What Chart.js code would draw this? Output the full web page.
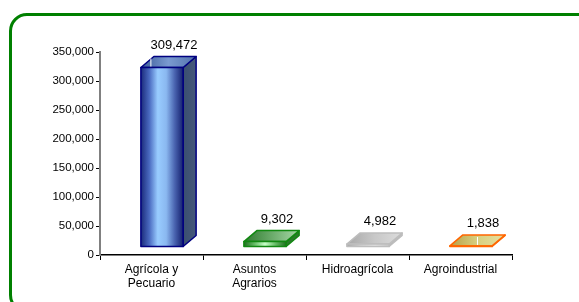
<!DOCTYPE html>
<html>
<head>
<meta charset="utf-8">
<script src="https://cdn.jsdelivr.net/npm/chart.js@4/dist/chart.umd.min.js"></script>
<style>
html, body { margin: 0; padding: 0; background: #fff; overflow: hidden; }
#wrap { position: relative; width: 579px; height: 302px; }
#frame { position: absolute; left: 9px; top: 13px; width: 590px; height: 300px;
         border: 3px solid #008000; border-radius: 18px; box-sizing: border-box; }
canvas { position: absolute; left: 0; top: 0; }
</style>
</head>
<body>
<div id="wrap">
  <div id="frame"></div>
  <canvas id="chart" width="579" height="302"></canvas>
</div>
<script>
// Data
var categories = [['Agrícola y', 'Pecuario'], ['Asuntos', 'Agrarios'], 'Hidroagrícola', 'Agroindustrial'];
var values = [309472, 9302, 4982, 1838];
var yTicks = [0, 50000, 100000, 150000, 200000, 250000, 300000, 350000];

// 3D look for each bar
var barStyles = [
    { border: '#000080', front: ['#1a2a7a', '#4a6ac0', '#99ccff', '#8ab8f0', '#4a64b0', '#14206e'],
      side: ['#3a4f70', '#46597a'], top: ['#3c5c98', '#7a9ad0', '#5272ac'], mark: '#ffffff' },
    { border: '#118811', front: ['#1e6e1e', '#66bb66', '#c8ffc8', '#66bb66', '#1e6e1e'],
      side: ['#2a7a2a', '#2a7a2a'], top: ['#2e7a2e', '#6aaa6a', '#a8d8a8'], mark: null },
    { border: '#bdbdbd', front: ['#a8a8a8', '#d0d0d0', '#e4e4e4', '#c8c8c8'],
      side: ['#b8b8b8', '#b8b8b8'], top: ['#a8a8a8', '#c8c8c8', '#dcdcdc'], mark: null },
    { border: '#ff6600', front: ['#c8b050', '#e0d890', '#c8b050'],
      side: ['#e07020', '#e07020'], top: ['#b8a048', '#d8d080', '#e8e0a0'], mark: '#ffffff' }
];

var DX = 13, DY = 11, SHIFT_X = 10.5, LIFT = 8;
var fontFamily = '"Liberation Sans", Arial, sans-serif';

function grad(ctx, x0, x1, stops) {
    var g = ctx.createLinearGradient(x0, 0, x1, 0);
    stops.forEach(function(c, i) { g.addColorStop(i / (stops.length - 1), c); });
    return g;
}

var bar3d = {
    id: 'bar3d',
    afterDatasetsDraw: function(chart) {
        var ctx = chart.ctx;
        var meta = chart.getDatasetMeta(0);
        ctx.save();
        meta.data.forEach(function(bar, i) {
            var p = bar.getProps(['x', 'y', 'base', 'width'], true);
            var st = barStyles[i];
            var w = p.width;
            var left = p.x - w / 2 + SHIFT_X;
            var right = left + w;
            var bottom = p.base - LIFT;
            var top = p.y - LIFT;
            ctx.lineWidth = 1.5;
            ctx.strokeStyle = st.border;
            ctx.lineJoin = 'round';

            // side face
            ctx.beginPath();
            ctx.moveTo(right, bottom);
            ctx.lineTo(right + DX, bottom - DY);
            ctx.lineTo(right + DX, top - DY);
            ctx.lineTo(right, top);
            ctx.closePath();
            ctx.fillStyle = grad(ctx, right, right + DX, st.side);
            ctx.fill();
            ctx.stroke();

            // top face
            ctx.beginPath();
            ctx.moveTo(left, top);
            ctx.lineTo(left + DX, top - DY);
            ctx.lineTo(right + DX, top - DY);
            ctx.lineTo(right, top);
            ctx.closePath();
            ctx.fillStyle = grad(ctx, left, right + DX, st.top);
            ctx.fill();
            ctx.stroke();

            // front face
            ctx.beginPath();
            ctx.rect(left, top, w, bottom - top);
            ctx.fillStyle = grad(ctx, left, right, st.front);
            ctx.fill();
            ctx.stroke();

            // small highlight mark on top face
            if (st.mark) {
                ctx.beginPath();
                var mx = i === 0 ? left + DX - 3 : left + w / 2 + DX / 2;
                ctx.moveTo(mx, top - DY + 2);
                ctx.lineTo(mx, top - 1);
                ctx.strokeStyle = st.mark;
                ctx.lineWidth = 1;
                ctx.stroke();
            }

            // value label
            ctx.fillStyle = '#000';
            ctx.font = '13px ' + fontFamily;
            ctx.textAlign = 'center';
            ctx.textBaseline = 'bottom';
            ctx.fillText(values[i].toLocaleString('en-US'), left + w / 2 + 12, top - DY - 5);
        });
        ctx.restore();
    }
};

new Chart(document.getElementById('chart'), {
    type: 'bar',
    data: {
        labels: categories,
        datasets: [{
            data: values,
            backgroundColor: 'rgba(0,0,0,0)',
            borderWidth: 0,
            barPercentage: 0.41,
            categoryPercentage: 1
        }]
    },
    options: {
        responsive: false,
        animation: false,
        layout: { padding: { top: 52, right: 67, left: 0, bottom: 0 } },
        plugins: { legend: { display: false }, tooltip: { enabled: false } },
        scales: {
            x: {
                grid: { drawOnChartArea: false, drawTicks: true, tickLength: 5, color: '#000', offset: true },
                border: { color: '#000', width: 1.5 },
                ticks: { color: '#000', font: { family: fontFamily, size: 12, lineHeight: 1.2 }, padding: 2,
                         maxRotation: 0, autoSkip: false },
                afterFit: function(s) { s.height = 47; }
            },
            y: {
                min: yTicks[0],
                max: yTicks[yTicks.length - 1],
                grid: { drawOnChartArea: false, drawTicks: true, tickLength: 4, color: '#000' },
                border: { color: '#808080', width: 2 },
                ticks: { stepSize: yTicks[1] - yTicks[0], padding: 2, color: '#000',
                         font: { family: fontFamily, size: 11.5 },
                         callback: function(v) { return v.toLocaleString('en-US'); } },
                afterFit: function(s) { s.width = 100; }
            }
        }
    },
    plugins: [bar3d]
});
</script>
</body>
</html>
